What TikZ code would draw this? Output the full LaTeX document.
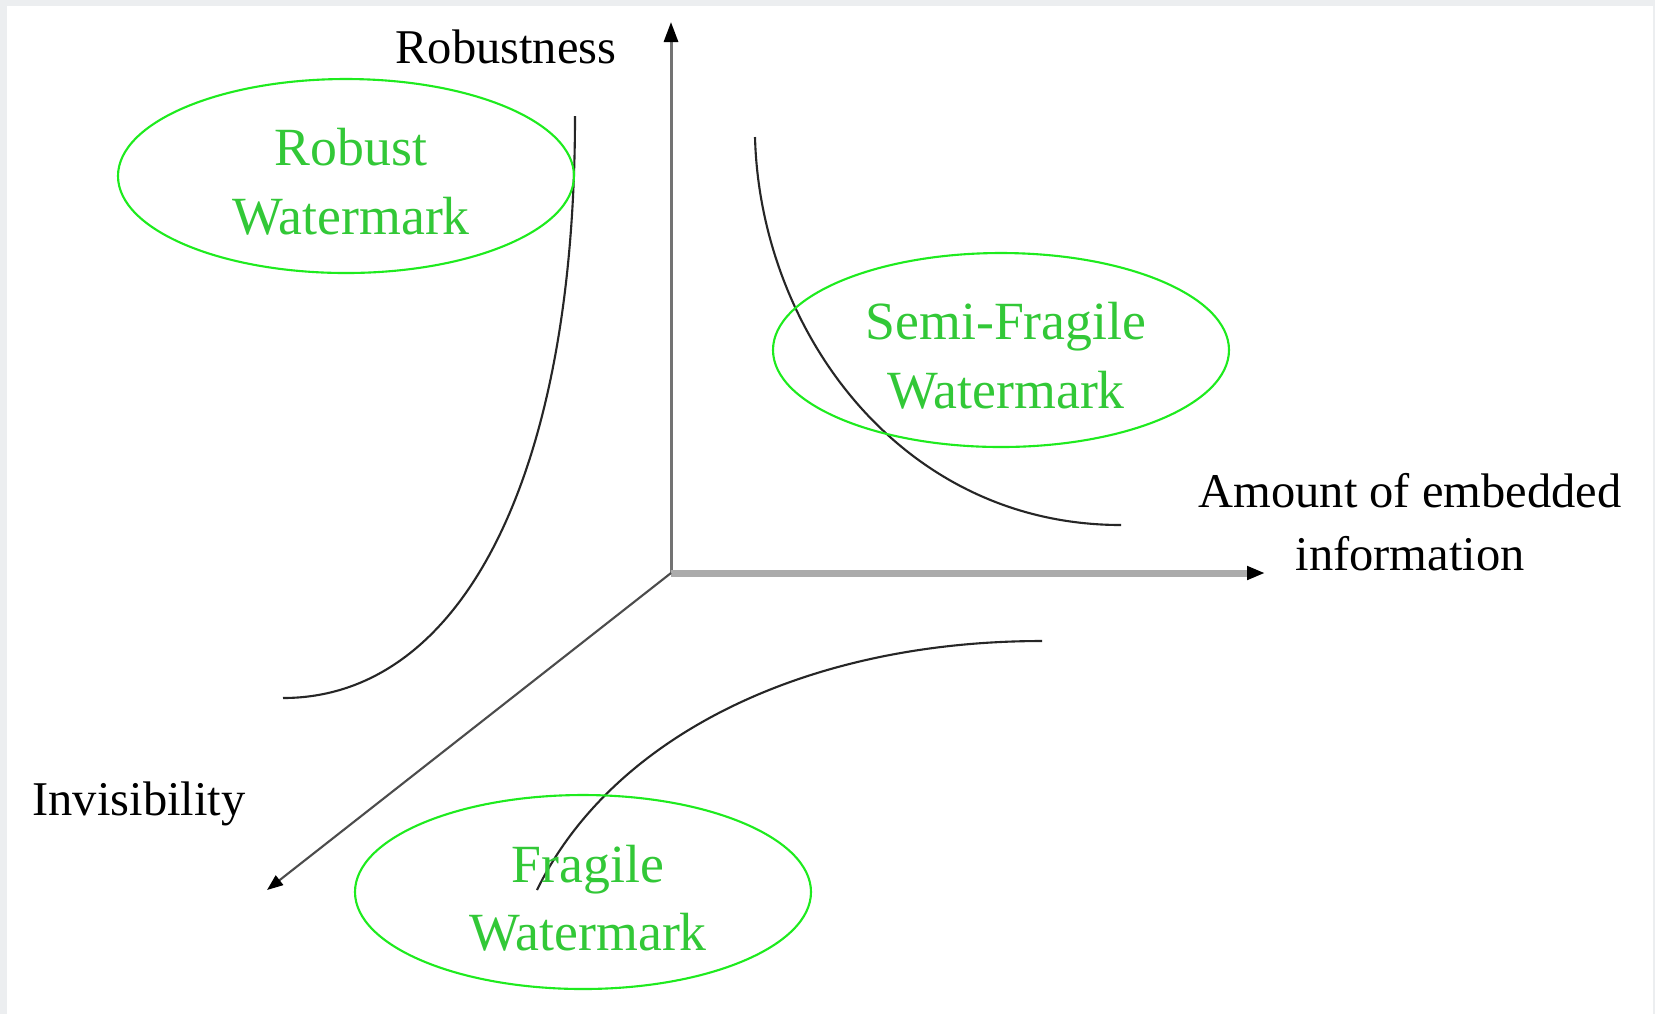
\documentclass[tikz,border=0pt]{standalone}
\usepackage{fontspec}
\setmainfont{Liberation Serif}
\usetikzlibrary{positioning, shapes.geometric, arrows.meta}

\definecolor{ringgreen}{RGB}{30,235,30}
\definecolor{textgreen}{RGB}{50,200,55}
\definecolor{framegray}{RGB}{236,238,240}

\begin{document}
\begin{tikzpicture}[
    x=0.1mm, y=-0.1mm,
    axislabel/.style={font=\fontsize{13.8}{18}\selectfont, align=center, inner sep=0pt},
    region/.style={ellipse, draw=ringgreen, line width=0.6pt, minimum width=4.56cm, minimum height=1.94cm},
    regiontext/.style={align=center, inner sep=0pt, text=textgreen, font=\fontsize{15.3}{19.5}\selectfont},
    tradeoff/.style={line width=0.6pt, black!85},
    axistip/.style={-{Triangle[length=2mm, width=1.4mm, color=black]}}
]

% page frame
\fill[framegray] (0,0) rectangle (1655,1014);
\fill[white] (7,6) rectangle (1653,1014);
\useasboundingbox (0,0) rectangle (1655,1014);

% axes
\coordinate (origin) at (671,573);
\coordinate (robtip) at (671,22);
\coordinate (amttip) at (1265,573);
\coordinate (invtip) at (267,890);

\draw[axistip, black!55, line width=0.85pt] (origin) -- (robtip);
\draw[-{Triangle[length=1.8mm, width=1.3mm, color=black]}, black!33, line width=2pt] (origin) -- (amttip);
\draw[-{Triangle[length=1.6mm, width=1.2mm, color=black]}, black!70, line width=0.6pt] (origin) -- (invtip);

\node[axislabel] (robustness) at (506,47) {Robustness};
\node[axislabel] (amount) at (1410,522) {Amount of embedded\\information};
\node[axislabel] (invisibility) at (139,804) {Invisibility};

% trade-off curves
\draw[tradeoff] (575,116) .. controls (575,480) and (460,698) .. (283,698);
\draw[tradeoff] (755,137) .. controls (760,330) and (900,525) .. (1121,525);
\draw[tradeoff] (537,890) .. controls (610,740) and (800,641) .. (1042,641);

% watermark classes
\node[region] (robust) at (346,176) {};
\node[region] (semifragile) at (1001,350) {};
\node[region] (fragile) at (583,892) {};

\node[regiontext] at ([shift={(5,6)}]robust.center) {Robust\\Watermark};
\node[regiontext] at ([shift={(5,6)}]semifragile.center) {Semi-Fragile\\Watermark};
\node[regiontext] at ([shift={(5,6)}]fragile.center) {Fragile\\Watermark};

\end{tikzpicture}
\end{document}
